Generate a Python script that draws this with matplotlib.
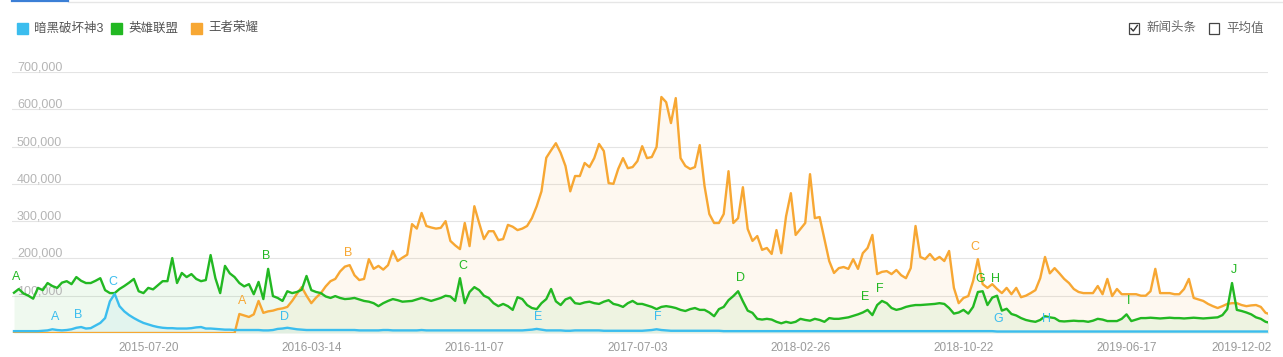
import pandas as pd
import matplotlib.pyplot as plt
import matplotlib.transforms as mtransforms
from matplotlib.patches import Rectangle
from matplotlib.lines import Line2D
import numpy as np

plt.rcParams['font.family'] = ['Liberation Sans', 'Noto Sans CJK SC']

# weekly search index, in thousands, starting Monday 2015-01-05
start = '2015-01-05'
series_names = ['暗黑破坏神3', '英雄联盟', '王者荣耀']
colors = ['#3bbdee', '#22b822', '#f7a733']

diablo = [
    5, 5, 5, 5, 5, 5, 6, 7, 10, 8,
    7, 8, 10, 14, 16, 12, 13, 20, 27, 40,
    85, 105, 72, 58, 48, 40, 33, 27, 23, 19,
    16, 14, 13, 13, 12, 12, 12, 13, 15, 16,
    12, 12, 11, 10, 9, 9, 8, 8, 8, 8,
    8, 8, 7, 7, 8, 11, 12, 14, 12, 10,
    9, 8, 8, 8, 8, 8, 8, 8, 8, 8,
    8, 8, 7, 7, 7, 7, 7, 8, 8, 7,
    7, 7, 7, 7, 7, 8, 7, 7, 7, 7,
    7, 7, 7, 7, 7, 7, 7, 7, 7, 7,
    7, 7, 7, 7, 7, 7, 7, 8, 9, 11,
    9, 7, 7, 7, 7, 6, 6, 7, 7, 7,
    7, 7, 7, 6, 6, 6, 6, 6, 6, 6,
    6, 6, 7, 8, 10, 8, 7, 6, 6, 6,
    6, 6, 6, 6, 6, 6, 6, 6, 5, 5,
    5, 5, 5, 5, 5, 5, 5, 5, 5, 5,
    5, 5, 5, 5, 5, 5, 5, 5, 5, 5,
    5, 5, 5, 5, 5, 5, 5, 5, 5, 5,
    5, 5, 5, 5, 5, 5, 5, 5, 5, 5,
    5, 5, 5, 5, 5, 5, 5, 5, 5, 5,
    5, 5, 5, 5, 5, 4, 4, 4, 4, 4,
    4, 4, 4, 4, 4, 4, 4, 4, 4, 4,
    4, 4, 4, 4, 4, 4, 4, 4, 4, 4,
    4, 4, 4, 4, 4, 4, 4, 4, 4, 4,
    4, 4, 4, 4, 4, 4, 4, 4, 4, 4,
    4, 4, 4, 4, 4, 4, 4, 4, 4, 4,
    4, 4, 4,
]

lol = [
    108, 118, 106, 100, 92, 121, 115, 134, 126, 121,
    135, 139, 131, 150, 140, 134, 134, 140, 147, 115,
    107, 107, 118, 126, 135, 145, 112, 107, 121, 117,
    128, 139, 139, 201, 134, 161, 150, 158, 145, 139,
    142, 209, 147, 107, 180, 160, 150, 134, 125, 131,
    104, 137, 91, 172, 99, 94, 86, 112, 107, 110,
    116, 153, 115, 110, 107, 98, 94, 99, 94, 91,
    92, 94, 90, 86, 84, 80, 72, 80, 86, 91,
    88, 84, 85, 86, 90, 94, 90, 86, 90, 94,
    100, 98, 86, 147, 80, 110, 123, 115, 100, 94,
    80, 72, 78, 72, 62, 96, 91, 75, 67, 64,
    80, 91, 118, 85, 75, 90, 95, 80, 78, 82,
    84, 80, 78, 84, 88, 78, 75, 70, 80, 86,
    78, 78, 74, 70, 64, 70, 72, 70, 67, 62,
    59, 64, 67, 62, 62, 55, 45, 64, 70, 88,
    99, 112, 85, 60, 54, 38, 36, 38, 36, 30,
    26, 30, 27, 30, 38, 35, 33, 38, 35, 30,
    40, 38, 38, 40, 42, 46, 50, 55, 62, 48,
    75, 86, 80, 67, 62, 65, 70, 73, 75, 75,
    76, 77, 78, 80, 78, 67, 52, 55, 62, 52,
    70, 110, 112, 75, 95, 100, 60, 65, 51, 47,
    40, 35, 32, 30, 35, 45, 42, 40, 32, 31,
    32, 33, 32, 32, 30, 33, 38, 36, 32, 32,
    32, 38, 50, 32, 36, 40, 40, 41, 40, 39,
    40, 41, 40, 40, 39, 40, 41, 40, 39, 40,
    41, 42, 48, 64, 134, 62, 59, 55, 50, 42,
    38, 30, 27,
]

honor = [
    0, 0, 0, 0, 0, 0, 0, 0, 0, 0,
    0, 0, 0, 0, 0, 0, 0, 0, 0, 0,
    0, 0, 0, 0, 0, 0, 0, 0, 0, 0,
    0, 0, 0, 0, 0, 0, 0, 0, 0, 0,
    0, 0, 0, 0, 0, 0, 0, 51, 47, 43,
    50, 86, 54, 58, 60, 64, 66, 70, 86, 105,
    123, 100, 80, 95, 107, 125, 139, 145, 165, 178,
    182, 155, 142, 145, 198, 172, 180, 170, 182, 220,
    193, 202, 210, 292, 280, 322, 287, 283, 280, 282,
    300, 247, 235, 225, 295, 233, 340, 295, 252, 273,
    273, 249, 252, 290, 285, 276, 280, 287, 308, 340,
    380, 470, 490, 509, 483, 448, 380, 421, 421, 456,
    445, 469, 507, 488, 402, 400, 440, 469, 442, 445,
    461, 501, 469, 472, 499, 633, 619, 563, 630, 469,
    448, 440, 445, 504, 394, 319, 295, 295, 319, 434,
    295, 308, 391, 279, 247, 260, 223, 228, 212, 276,
    214, 313, 375, 263, 279, 295, 426, 308, 311, 252,
    193, 161, 174, 177, 172, 198, 172, 214, 228, 263,
    158, 164, 166, 158, 169, 155, 147, 174, 287, 204,
    198, 212, 196, 204, 193, 220, 121, 80, 94, 99,
    139, 198, 131, 121, 131, 118, 107, 121, 104, 121,
    96, 100, 107, 115, 147, 204, 160, 174, 160, 145,
    134, 118, 110, 107, 107, 107, 126, 104, 145, 99,
    118, 104, 104, 104, 104, 100, 100, 112, 172, 107,
    107, 107, 104, 104, 118, 145, 94, 90, 86, 78,
    72, 67, 72, 78, 80, 80, 75, 72, 74, 75,
    70, 54, 50,
]

yticks = [100000, 200000, 300000, 400000, 500000, 600000, 700000]
xtick_dates = ['2015-07-20', '2016-03-14', '2016-11-07', '2017-07-03',
               '2018-02-26', '2018-10-22', '2019-06-17', '2019-12-02']

# event letters: (letters, week offset, value in thousands)
diablo_marks = (['A', 'B', 'C', 'D', 'E', 'F', 'G', 'H'],
                [8.6, 13.3, 20.6, 56.5, 109.3, 134.3, 205.2, 215.4],
                [43, 48, 137, 43, 43, 43, 38, 38])
lol_marks = (['A', 'B', 'C', 'D', 'E', 'F', 'G', 'H', 'I', 'J'],
             [0.4, 52.6, 93.6, 151.4, 177.5, 180.6, 201.5, 204.6, 232.5, 254.4],
             [150, 206, 180, 147, 97, 118, 145, 145, 86, 169])
honor_marks = (['A', 'B', 'C'], [47.5, 69.7, 200.4], [86, 214, 231])

W, H = 1283, 357
fig = plt.figure(figsize=(W / 100, H / 100), dpi=100)
ax = fig.add_axes([12 / W, (H - 333) / H, 1256 / W, 261 / H])

t0 = pd.Timestamp(start)
dates = pd.date_range(start, periods=len(honor), freq='7D')

all_series = [diablo, lol, honor]
for vals, c, z in zip(all_series[::-1], colors[::-1], [3, 4, 5]):
    v = np.array(vals) * 1000
    ax.fill_between(dates, 0, v, color=c, alpha=0.07, lw=0, zorder=1)
    ax.plot(dates, v, color=c, lw=1.7, zorder=z, solid_joinstyle='round')

for marks, c in zip([diablo_marks, lol_marks, honor_marks], colors):
    for letter, wk, val in zip(*marks):
        ax.text(t0 + pd.Timedelta(days=wk * 7), val * 1000, letter, color=c,
                fontsize=9, ha='center', va='center', zorder=6)

trans = mtransforms.blended_transform_factory(ax.transAxes, ax.transData)
for y in yticks:
    ax.axhline(y, color='#e4e4e4', lw=0.8, zorder=0)
    ax.text(5 / 1256, y + 4000, f'{y:,}', transform=trans, fontsize=9,
            color='#b5b5b5', ha='left', va='baseline', zorder=2)

ax.set_ylim(0, 700000)
ax.set_xlim(t0 - pd.Timedelta(days=2.9), t0 + pd.Timedelta(days=261.5 * 7))
ax.set_yticks([])
ax.set_xticks(pd.to_datetime(xtick_dates))
ax.set_xticklabels(xtick_dates)
ax.tick_params(axis='x', length=0, pad=6.5, labelsize=8.5, labelcolor='#9a9a9a')
for s in ax.spines.values():
    s.set_visible(False)


def fx(px):
    return px / W


def fy(py):
    return (H - py) / H


# legend
legend_x = [17, 111, 191]
for name, c, x0 in zip(series_names, colors, legend_x):
    fig.patches.append(Rectangle((fx(x0), fy(34)), 11 / W, 11 / H, color=c,
                                 transform=fig.transFigure, figure=fig))
    fig.text(fx(x0 + 17), fy(28.5), name, fontsize=9, color='#555555',
             ha='left', va='center')

# check boxes on the right
for x0, label, checked in [(1129, '新闻头条', True), (1209, '平均值', False)]:
    fig.patches.append(Rectangle((fx(x0), fy(33.5)), 10 / W, 10 / H, fill=False,
                                 ec='#444444', lw=0.9,
                                 transform=fig.transFigure, figure=fig))
    if checked:
        fig.lines.append(Line2D([fx(x0 + 2), fx(x0 + 4.3), fx(x0 + 8.3)],
                                [fy(28.5), fy(31), fy(25.5)], color='#333333',
                                lw=1.0, transform=fig.transFigure, figure=fig))
    fig.text(fx(x0 + 17), fy(28.5), label, fontsize=9, color='#666666',
             ha='left', va='center')

# tab line at top
fig.lines.append(Line2D([fx(68), fx(1283)], [fy(1.5), fy(1.5)], color='#e6e6e6',
                        lw=1.0, transform=fig.transFigure, figure=fig))
fig.lines.append(Line2D([fx(12), fx(68)], [fy(0.8), fy(0.8)], color='#3b7fd6',
                        lw=1.6, transform=fig.transFigure, figure=fig))

fig.savefig('out.png', dpi=100)
plt.close(fig)
